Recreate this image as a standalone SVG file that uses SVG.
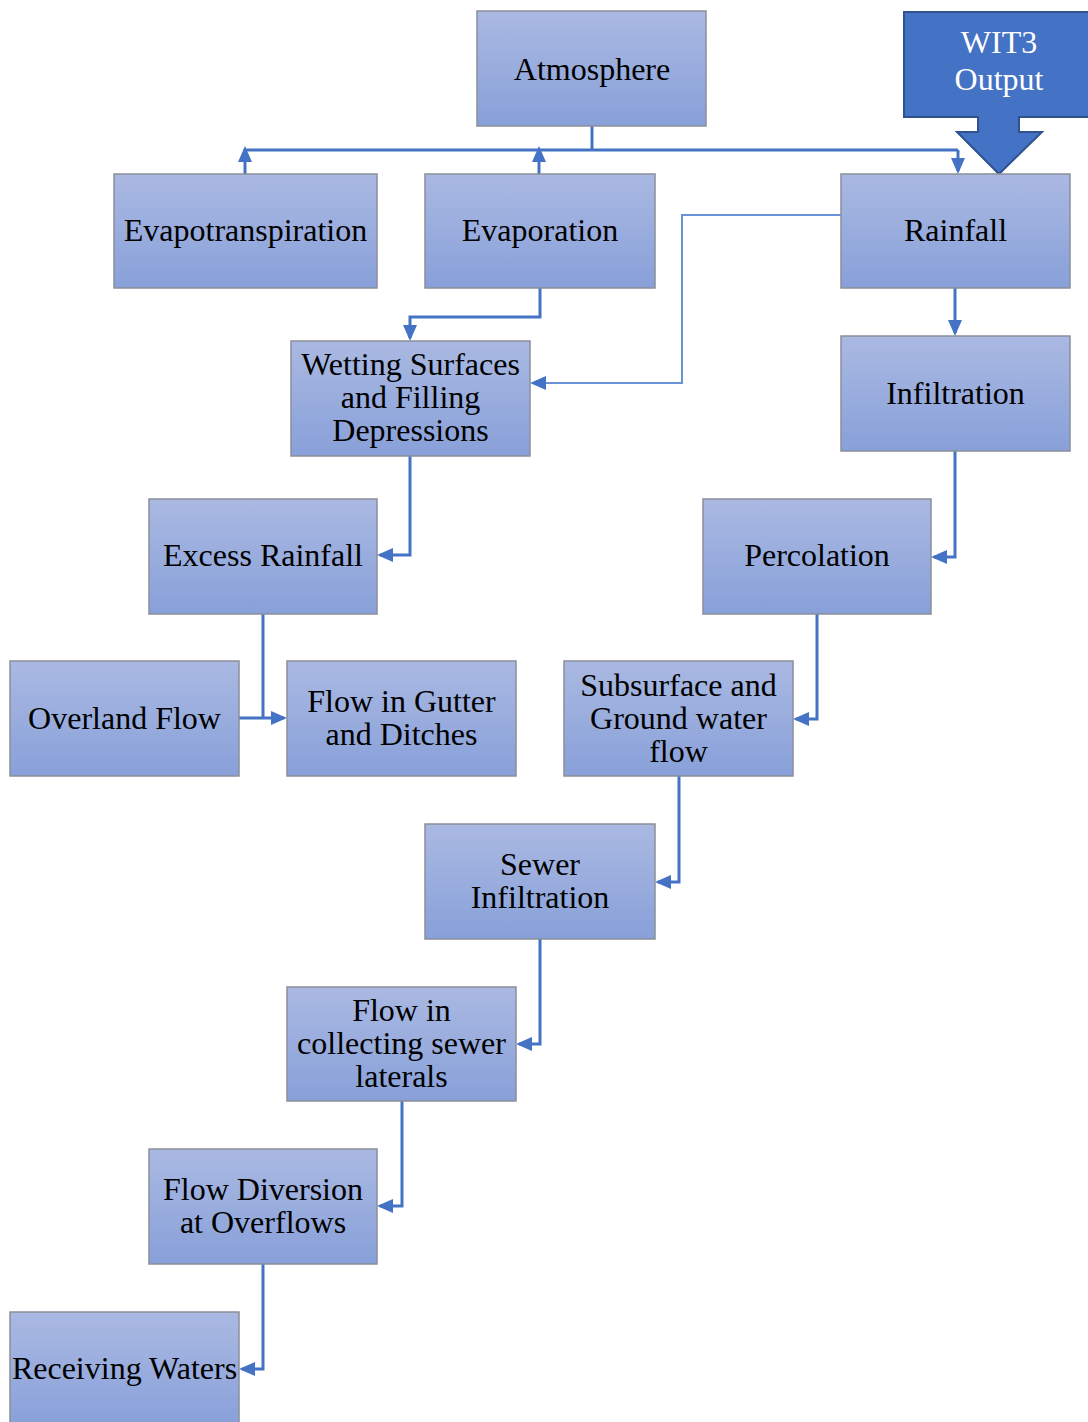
<svg xmlns="http://www.w3.org/2000/svg" width="1088" height="1422" viewBox="0 0 1088 1422">
<defs>
<linearGradient id="g" x1="0" y1="0" x2="0" y2="1">
<stop offset="0" stop-color="#AAB9E2"/>
<stop offset="1" stop-color="#88A0D9"/>
</linearGradient>
<marker id="ah" markerUnits="userSpaceOnUse" markerWidth="16" markerHeight="14" refX="13" refY="7" orient="auto" overflow="visible">
<path d="M0,0 L16,7 L0,14 Z" fill="#4472C4"/>
</marker>
<style>
.box{fill:url(#g);stroke:#8a8f99;stroke-width:1.5}
.t{font-family:"Liberation Serif","Times New Roman",serif;font-size:32px;fill:#000;text-anchor:middle}
.w{font-family:"Liberation Serif","Times New Roman",serif;font-size:32px;fill:#fff;text-anchor:middle}
.c{fill:none;stroke:#4472C4;stroke-width:3}
.c2{fill:none;stroke:#6A92D8;stroke-width:2}
</style>
</defs>
<rect width="1088" height="1422" fill="#fff"/>
<g id="connectors">
<polyline class="c" points="592,126 592,150"/>
<polyline class="c" points="245,150 958,150"/>
<polyline class="c" points="245,174 245,149" marker-end="url(#ah)"/>
<polyline class="c" points="539,174 539,149" marker-end="url(#ah)"/>
<polyline class="c" points="958,150 958,171" marker-end="url(#ah)"/>
<polyline class="c" points="540,288 540,317 410,317 410,338" marker-end="url(#ah)"/>
<polyline class="c2" points="841,215 682,215 682,383 533,383" marker-end="url(#ah)"/>
<polyline class="c" points="955,288 955,333" marker-end="url(#ah)"/>
<polyline class="c" points="410,456 410,555 380,555" marker-end="url(#ah)"/>
<polyline class="c" points="955,451 955,557 934,557" marker-end="url(#ah)"/>
<polyline class="c" points="263,614 263,718"/>
<polyline class="c" points="239,718 284,718" marker-end="url(#ah)"/>
<polyline class="c" points="817,614 817,719 796,719" marker-end="url(#ah)"/>
<polyline class="c" points="679,776 679,882 658,882" marker-end="url(#ah)"/>
<polyline class="c" points="540,939 540,1044 519,1044" marker-end="url(#ah)"/>
<polyline class="c" points="402,1101 402,1206 380,1206" marker-end="url(#ah)"/>
<polyline class="c" points="263,1264 263,1369 242,1369" marker-end="url(#ah)"/>
</g>
<g id="wit3">
<path d="M904,12 L1090,12 L1090,117 L1019,117 L1019,132 L1042,132 L999,174 L957,132 L978,132 L978,117 L904,117 Z" fill="#4472C4" stroke="#2F528F" stroke-width="2"/>
<text class="w" x="999" y="53">WIT3</text>
<text class="w" x="999" y="90">Output</text>
</g>
<g id="atmosphere"><rect class="box" x="477" y="11" width="229" height="115"/><text class="t" x="592" y="80">Atmosphere</text></g>
<g id="evapotranspiration"><rect class="box" x="114" y="174" width="263" height="114"/><text class="t" x="245.5" y="241">Evapotranspiration</text></g>
<g id="evaporation"><rect class="box" x="425" y="174" width="230" height="114"/><text class="t" x="540" y="241">Evaporation</text></g>
<g id="rainfall"><rect class="box" x="841" y="174" width="229" height="114"/><text class="t" x="955.5" y="241">Rainfall</text></g>
<g id="wetting"><rect class="box" x="291" y="341" width="239" height="115"/><text class="t" x="410.5" y="375">Wetting Surfaces</text><text class="t" x="410.5" y="408">and Filling</text><text class="t" x="410.5" y="441">Depressions</text></g>
<g id="infiltration"><rect class="box" x="841" y="336" width="229" height="115"/><text class="t" x="955.5" y="404">Infiltration</text></g>
<g id="excess"><rect class="box" x="149" y="499" width="228" height="115"/><text class="t" x="263" y="566">Excess Rainfall</text></g>
<g id="percolation"><rect class="box" x="703" y="499" width="228" height="115"/><text class="t" x="817" y="566">Percolation</text></g>
<g id="overland"><rect class="box" x="10" y="661" width="229" height="115"/><text class="t" x="124.5" y="729">Overland Flow</text></g>
<g id="gutter"><rect class="box" x="287" y="661" width="229" height="115"/><text class="t" x="401.5" y="712">Flow in Gutter</text><text class="t" x="401.5" y="745">and Ditches</text></g>
<g id="subsurface"><rect class="box" x="564" y="661" width="229" height="115"/><text class="t" x="678.5" y="696">Subsurface and</text><text class="t" x="678.5" y="729">Ground water</text><text class="t" x="678.5" y="762">flow</text></g>
<g id="sewer"><rect class="box" x="425" y="824" width="230" height="115"/><text class="t" x="540" y="875">Sewer</text><text class="t" x="540" y="908">Infiltration</text></g>
<g id="collecting"><rect class="box" x="287" y="987" width="229" height="114"/><text class="t" x="401.5" y="1021">Flow in</text><text class="t" x="401.5" y="1054">collecting sewer</text><text class="t" x="401.5" y="1087">laterals</text></g>
<g id="diversion"><rect class="box" x="149" y="1149" width="228" height="115"/><text class="t" x="263" y="1200">Flow Diversion</text><text class="t" x="263" y="1233">at Overflows</text></g>
<g id="receiving"><rect class="box" x="10" y="1312" width="229" height="115"/><text class="t" x="124.5" y="1379">Receiving Waters</text></g>
</svg>
